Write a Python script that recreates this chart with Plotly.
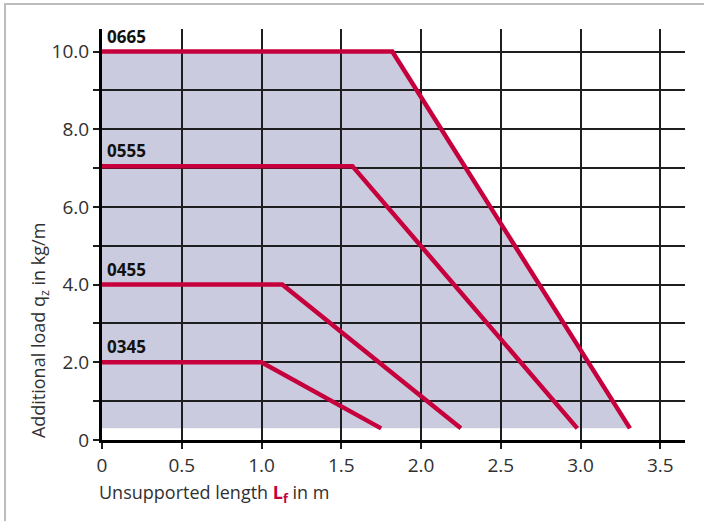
import plotly.graph_objects as go

# Data
series_names = ["0665", "0555", "0455", "0345"]
x_0665 = [0.0, 1.82, 3.31]
y_0665 = [10.0, 10.0, 0.3]
x_0555 = [0.0, 1.57, 2.98]
y_0555 = [7.05, 7.05, 0.3]
x_0455 = [0.0, 1.13, 2.25]
y_0455 = [4.0, 4.0, 0.3]
x_0345 = [0.0, 1.0, 1.75]
y_0345 = [2.0, 2.0, 0.3]
base_load = 0.3

x_tickvals = [0, 0.5, 1.0, 1.5, 2.0, 2.5, 3.0, 3.5]
x_ticktext = ["0", "0.5", "1.0", "1.5", "2.0", "2.5", "3.0", "3.5"]
y_tickvals = [0, 1, 2, 3, 4, 5, 6, 7, 8, 9, 10]
y_ticktext = ["0", "", "2.0", "", "4.0", "", "6.0", "", "8.0", "", "10.0"]

RED = "#C6003D"
FILL = "#CACBDF"
GRID = "#1e1e1e"
FONT = "Open Sans"
TXT = "#303030"

xs = [x_0665, x_0555, x_0455, x_0345]
ys = [y_0665, y_0555, y_0455, y_0345]

fig = go.Figure()

for name, x, y in zip(series_names, xs, ys):
    fig.add_trace(go.Scatter(x=x, y=y, mode="lines", name=name,
                             line=dict(color=RED, width=4.5),
                             showlegend=False, hoverinfo="skip"))

# Shaded region under the largest series (drawn below gridlines)
poly = [(x_0665[0], base_load)] + list(zip(x_0665, y_0665))
path = "M " + " L ".join(f"{px},{py}" for px, py in poly) + " Z"
shapes = [dict(type="path", path=path, xref="x", yref="y", layer="below",
               fillcolor=FILL, line=dict(width=0))]

annotations = []
for name, x, y in zip(series_names, xs, ys):
    annotations.append(dict(x=x[0], y=y[0], xref="x", yref="y", text=f"<b>{name}</b>",
                            showarrow=False, xanchor="left", yanchor="bottom",
                            xshift=3, yshift=2,
                            font=dict(family=FONT, size=17, color="#111")))

annotations.append(dict(xref="paper", yref="y", x=-0.107, y=0, text="Additional load q<sub>z</sub> in kg/m",
                        textangle=-90, showarrow=False, xanchor="center", yanchor="bottom",
                        font=dict(family=FONT, size=18, color=TXT)))
annotations.append(dict(xref="x", yref="paper", x=0, y=-0.13,
                        text="Unsupported length <b><span style='color:%s'>L<sub>f</sub></span></b> in m" % RED,
                        showarrow=False, xanchor="left", yanchor="middle", xshift=-5,
                        font=dict(family=FONT, size=18, color=TXT)))

fig.update_layout(
    width=704, height=521,
    margin=dict(l=102, r=19, t=29, b=81),
    paper_bgcolor="white", plot_bgcolor="rgba(0,0,0,0)",
    shapes=shapes, annotations=annotations,
    xaxis=dict(range=[0, 3.655], tickvals=x_tickvals, ticktext=x_ticktext,
               showgrid=True, gridcolor=GRID, gridwidth=1.5,
               ticks="outside", ticklen=6, tickwidth=1.5, tickcolor=GRID,
               showline=True, linecolor="black", linewidth=3,
               zeroline=False, tickfont=dict(family=FONT, size=19, color=TXT)),
    yaxis=dict(range=[0, 10.58], tickvals=y_tickvals, ticktext=y_ticktext,
               showgrid=True, gridcolor=GRID, gridwidth=1.5,
               ticks="outside", ticklen=6, tickwidth=1.5, tickcolor=GRID,
               showline=True, linecolor="black", linewidth=3,
               zeroline=False, tickfont=dict(family=FONT, size=19, color=TXT)),
)

# page frame: grey rule on the top and left edges, as in the reference
post = (
    "document.body.style.margin='0';"
    "document.body.style.overflow='hidden';"
    "var f=document.createElement('div');"
    "f.style.cssText='position:absolute;left:4px;top:3px;width:720px;height:540px;"
    "border-top:2px solid #BDBDBD;border-left:2px solid #BDBDBD;pointer-events:none;';"
    "document.body.appendChild(f);"
)
fig.write_html("out.html", config={"displayModeBar": False}, post_script=post)
